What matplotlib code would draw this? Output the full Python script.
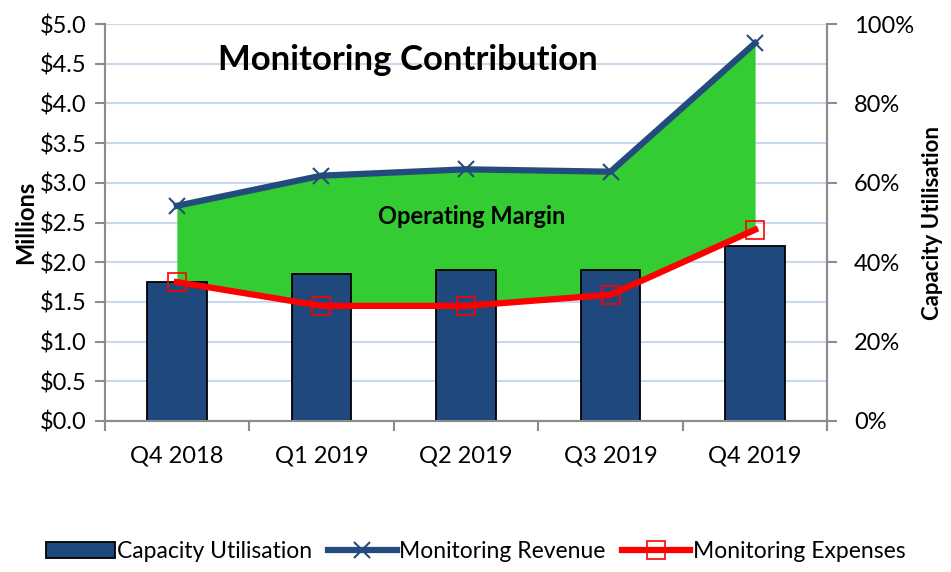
import matplotlib.pyplot as plt
import numpy as np

# datos
trimestres = ["Q4 2018", "Q1 2019", "Q2 2019", "Q3 2019", "Q4 2019"]
utilizacion = [35, 37, 38, 38, 44]          # % capacidad
ingresos = [2.71, 3.09, 3.17, 3.14, 4.76]   # millones $
gastos = [1.75, 1.45, 1.45, 1.59, 2.41]     # millones $

plt.rcParams['font.family'] = ['Lato', 'DejaVu Sans']

azul_barra = '#1f487c'
azul_linea = '#244b7e'
gris = '#8c8c8c'

fig = plt.figure(figsize=(9.51, 5.72), dpi=100)
ax = fig.add_axes([0.110, 0.264, 0.760, 0.694])
x = np.arange(len(trimestres))

# area verde (margen operativo) al fondo
ax.fill_between(x, gastos, ingresos, color='#33cc33', linewidth=0, zorder=1)
ax.set_ylim(0, 5)
ax.set_xlim(-0.5, len(trimestres) - 0.5)
ax.set_yticks(np.arange(0, 5.01, 0.5))
ax.set_yticklabels([f"${v:.1f}" for v in np.arange(0, 5.01, 0.5)])
ax.yaxis.grid(True, color='#c9d8ec', linewidth=1.5, zorder=0)
ax.set_axisbelow(True)

# barras en el eje derecho
ax2 = ax.twinx()
barras = ax2.bar(x, utilizacion, width=0.41, color=azul_barra,
                 edgecolor='black', linewidth=1.3, zorder=2,
                 label='Capacity Utilisation')
ax2.set_ylim(0, 100)
ax2.set_yticks(np.arange(0, 101, 20))
ax2.set_yticklabels([f"{v}%" for v in range(0, 101, 20)])

# lineas encima de todo, misma escala que el eje izquierdo
ax3 = ax.twinx()
ax3.set_ylim(0, 5)
ax3.axis('off')
l1, = ax3.plot(x, ingresos, color=azul_linea, lw=4.5, marker='x', ms=11,
               mew=1.5, label='Monitoring Revenue')
l2, = ax3.plot(x, gastos, color='#ff0000', lw=4.5, marker='s', ms=13,
               mfc='none', mec='#ff0000', mew=1.2, label='Monitoring Expenses')

for a in (ax, ax2):
    a.spines['top'].set_visible(False)
    for s in ('left', 'right', 'bottom'):
        a.spines[s].set_color(gris)
        a.spines[s].set_linewidth(1.5)
    a.tick_params(axis='y', labelsize=17, colors=gris, labelcolor='black',
                  length=7, width=1.5, direction='out', pad=6)
ax2.tick_params(axis='y', pad=12)

ax.set_xticks(x)
ax.set_xticklabels(trimestres, fontsize=17)
ax.set_xticks(np.arange(-0.5, len(trimestres)), minor=True)
ax.tick_params(axis='x', which='major', length=0, pad=18)
ax.tick_params(axis='x', which='minor', length=7, width=1.5, colors=gris)

ax.set_ylabel("Millions", fontsize=17, fontweight='bold', labelpad=2)
ax2.set_ylabel("Capacity Utilisation", fontsize=16, fontweight='bold', labelpad=6)

ax.text(0.42, 0.91, "Monitoring Contribution", transform=ax.transAxes,
        fontsize=25, fontweight='bold', ha='center', va='center', zorder=5)
ax3.text(2.04, 2.57, "Operating Margin", fontsize=17, fontweight='bold',
         ha='center', va='center')

fig.legend(handles=[barras, l1, l2], loc='lower center', ncol=3,
           bbox_to_anchor=(0.5, -0.018), frameon=False, fontsize=16.5,
           handlelength=3.0, handletextpad=0.1, columnspacing=0.7)

fig.savefig("out.png", dpi=100)
